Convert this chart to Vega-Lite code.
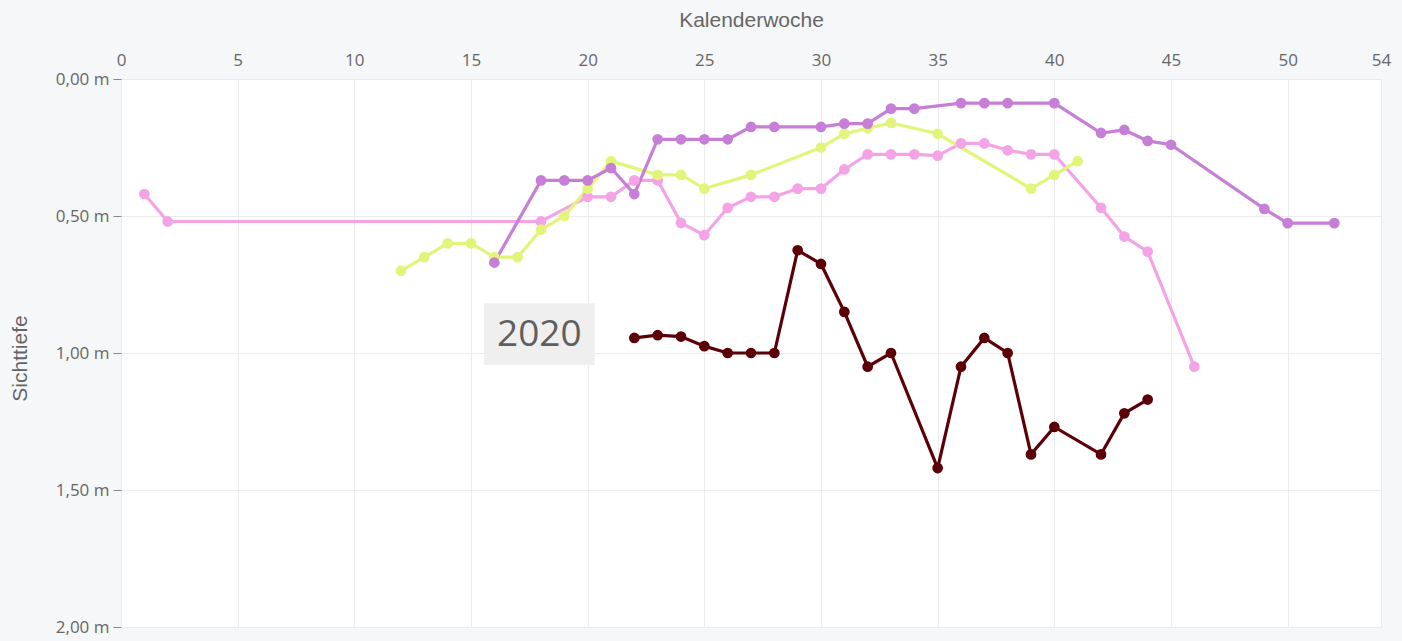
{
  "$schema": "https://vega.github.io/schema/vega-lite/v6.json",
  "width": 1260,
  "height": 548,
  "autosize": {"type": "none"},
  "padding": {"left": 121, "top": 79, "right": 21, "bottom": 14},
  "background": "#f6f7f9",
  "config": {
    "view": {"fill": "white", "stroke": null},
    "font": "Open Sans"
  },
  "datasets": {
    "series": [
      {"s": "2017", "w": 1, "v": 0.42}, {"s": "2017", "w": 2, "v": 0.52}, {"s": "2017", "w": 18, "v": 0.52},
      {"s": "2017", "w": 20, "v": 0.43}, {"s": "2017", "w": 21, "v": 0.43}, {"s": "2017", "w": 22, "v": 0.37},
      {"s": "2017", "w": 23, "v": 0.37}, {"s": "2017", "w": 24, "v": 0.525}, {"s": "2017", "w": 25, "v": 0.57},
      {"s": "2017", "w": 26, "v": 0.47}, {"s": "2017", "w": 27, "v": 0.43}, {"s": "2017", "w": 28, "v": 0.43},
      {"s": "2017", "w": 29, "v": 0.40}, {"s": "2017", "w": 30, "v": 0.40}, {"s": "2017", "w": 31, "v": 0.33},
      {"s": "2017", "w": 32, "v": 0.275}, {"s": "2017", "w": 33, "v": 0.275}, {"s": "2017", "w": 34, "v": 0.275},
      {"s": "2017", "w": 35, "v": 0.28}, {"s": "2017", "w": 36, "v": 0.235}, {"s": "2017", "w": 37, "v": 0.235},
      {"s": "2017", "w": 38, "v": 0.26}, {"s": "2017", "w": 39, "v": 0.275}, {"s": "2017", "w": 40, "v": 0.275},
      {"s": "2017", "w": 42, "v": 0.47}, {"s": "2017", "w": 43, "v": 0.575}, {"s": "2017", "w": 44, "v": 0.63},
      {"s": "2017", "w": 46, "v": 1.05},

      {"s": "2018", "w": 12, "v": 0.70}, {"s": "2018", "w": 13, "v": 0.65}, {"s": "2018", "w": 14, "v": 0.60},
      {"s": "2018", "w": 15, "v": 0.60}, {"s": "2018", "w": 16, "v": 0.65}, {"s": "2018", "w": 17, "v": 0.65},
      {"s": "2018", "w": 18, "v": 0.55}, {"s": "2018", "w": 19, "v": 0.50}, {"s": "2018", "w": 20, "v": 0.40},
      {"s": "2018", "w": 21, "v": 0.30}, {"s": "2018", "w": 23, "v": 0.35}, {"s": "2018", "w": 24, "v": 0.35},
      {"s": "2018", "w": 25, "v": 0.40}, {"s": "2018", "w": 27, "v": 0.35}, {"s": "2018", "w": 30, "v": 0.25},
      {"s": "2018", "w": 31, "v": 0.20}, {"s": "2018", "w": 32, "v": 0.18}, {"s": "2018", "w": 33, "v": 0.16},
      {"s": "2018", "w": 35, "v": 0.20}, {"s": "2018", "w": 39, "v": 0.40}, {"s": "2018", "w": 40, "v": 0.35},
      {"s": "2018", "w": 41, "v": 0.30},

      {"s": "2019", "w": 16, "v": 0.67}, {"s": "2019", "w": 18, "v": 0.37}, {"s": "2019", "w": 19, "v": 0.37},
      {"s": "2019", "w": 20, "v": 0.37}, {"s": "2019", "w": 21, "v": 0.325}, {"s": "2019", "w": 22, "v": 0.42},
      {"s": "2019", "w": 23, "v": 0.22}, {"s": "2019", "w": 24, "v": 0.22}, {"s": "2019", "w": 25, "v": 0.22},
      {"s": "2019", "w": 26, "v": 0.22}, {"s": "2019", "w": 27, "v": 0.175}, {"s": "2019", "w": 28, "v": 0.175},
      {"s": "2019", "w": 30, "v": 0.175}, {"s": "2019", "w": 31, "v": 0.163}, {"s": "2019", "w": 32, "v": 0.163},
      {"s": "2019", "w": 33, "v": 0.108}, {"s": "2019", "w": 34, "v": 0.108}, {"s": "2019", "w": 36, "v": 0.088},
      {"s": "2019", "w": 37, "v": 0.088}, {"s": "2019", "w": 38, "v": 0.088}, {"s": "2019", "w": 40, "v": 0.088},
      {"s": "2019", "w": 42, "v": 0.197}, {"s": "2019", "w": 43, "v": 0.186}, {"s": "2019", "w": 44, "v": 0.226},
      {"s": "2019", "w": 45, "v": 0.24}, {"s": "2019", "w": 49, "v": 0.474}, {"s": "2019", "w": 50, "v": 0.526},
      {"s": "2019", "w": 52, "v": 0.526},

      {"s": "2020", "w": 22, "v": 0.945}, {"s": "2020", "w": 23, "v": 0.935}, {"s": "2020", "w": 24, "v": 0.94},
      {"s": "2020", "w": 25, "v": 0.975}, {"s": "2020", "w": 26, "v": 1.0}, {"s": "2020", "w": 27, "v": 1.0},
      {"s": "2020", "w": 28, "v": 1.0}, {"s": "2020", "w": 29, "v": 0.625}, {"s": "2020", "w": 30, "v": 0.675},
      {"s": "2020", "w": 31, "v": 0.85}, {"s": "2020", "w": 32, "v": 1.05}, {"s": "2020", "w": 33, "v": 1.0},
      {"s": "2020", "w": 35, "v": 1.42}, {"s": "2020", "w": 36, "v": 1.05}, {"s": "2020", "w": 37, "v": 0.945},
      {"s": "2020", "w": 38, "v": 1.0}, {"s": "2020", "w": 39, "v": 1.37}, {"s": "2020", "w": 40, "v": 1.27},
      {"s": "2020", "w": 42, "v": 1.37}, {"s": "2020", "w": 43, "v": 1.22}, {"s": "2020", "w": 44, "v": 1.17}
    ],
    "label": [
      {"text": "2020", "x1": 15.56, "x2": 20.3, "y1": 0.818, "y2": 1.044, "xm": 17.93, "ym": 0.935}
    ]
  },
  "layer": [
    {
      "data": {"name": "label"},
      "mark": {"type": "rect", "fill": "#efefef"},
      "encoding": {
        "x": {"field": "x1", "type": "quantitative"},
        "x2": {"field": "x2"},
        "y": {"field": "y1", "type": "quantitative"},
        "y2": {"field": "y2"}
      }
    },
    {
      "data": {"name": "label"},
      "mark": {"type": "text", "font": "Open Sans", "fontSize": 37, "color": "#5f5f5f", "align": "center", "baseline": "middle"},
      "encoding": {
        "x": {"field": "xm", "type": "quantitative"},
        "y": {"field": "ym", "type": "quantitative"},
        "text": {"field": "text"}
      }
    },
    {
      "data": {"name": "series"},
      "encoding": {
        "x": {
          "field": "w", "type": "quantitative",
          "scale": {"domain": [0, 54], "nice": false, "zero": false},
          "axis": {
            "orient": "top", "title": "Kalenderwoche",
            "values": [0, 5, 10, 15, 20, 25, 30, 35, 40, 45, 50, 54],
            "grid": true, "gridColor": "#ececec", "ticks": false, "domain": false,
            "labelFlush": false, "labelPadding": 10,
            "labelFont": "Open Sans", "labelFontSize": 17, "labelColor": "#666666",
            "titleFont": "Liberation Sans", "titleFontSize": 21, "titleFontWeight": "normal", "titleColor": "#666666",
            "titleY": -59, "titleBaseline": "middle"
          }
        },
        "y": {
          "field": "v", "type": "quantitative",
          "scale": {"domain": [0, 2], "reverse": true, "nice": false},
          "axis": {
            "title": "Sichttiefe",
            "values": [0, 0.5, 1, 1.5, 2],
            "labelExpr": "replace(format(datum.value, '.2f'), '.', ',') + ' m'",
            "grid": true, "gridColor": "#ececec", "domain": false,
            "ticks": true, "tickSize": 8, "tickColor": "#888888", "labelPadding": 4,
            "labelFont": "Open Sans", "labelFontSize": 17, "labelColor": "#666666",
            "titleFont": "Liberation Sans", "titleFontSize": 21, "titleFontWeight": "normal", "titleColor": "#666666",
            "titleX": -91, "titleY": 279
          }
        },
        "color": {
          "field": "s", "type": "nominal",
          "scale": {"domain": ["2017", "2018", "2019", "2020"], "range": ["#f4a3e6", "#e2f57a", "#c77ed7", "#5c0008"]},
          "legend": null
        }
      },
      "layer": [
        {"mark": {"type": "line", "strokeWidth": 3.2}},
        {"mark": {"type": "point", "filled": true, "size": 115, "opacity": 1}}
      ]
    }
  ]
}
